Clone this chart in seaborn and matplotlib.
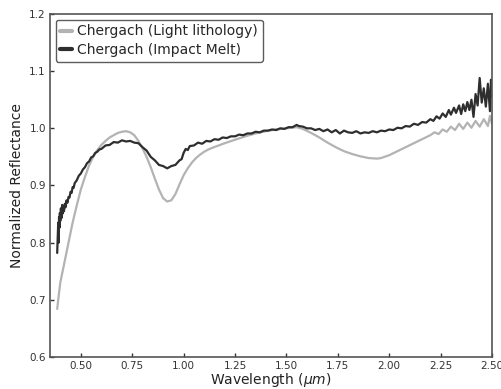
import numpy as np
import pandas as pd
import matplotlib
matplotlib.use("Agg")
import matplotlib.pyplot as plt
import seaborn as sns

light_x = [0.385, 0.39, 0.40, 0.42, 0.44, 0.46, 0.48, 0.50, 0.52, 0.54, 0.56, 0.58, 0.60, 0.62,
           0.64, 0.66, 0.68, 0.70, 0.72, 0.74, 0.76, 0.78, 0.80, 0.82, 0.84, 0.86, 0.88, 0.90,
           0.92, 0.94, 0.96, 0.98, 1.00, 1.02, 1.04, 1.06, 1.08, 1.10, 1.12, 1.14, 1.17, 1.20,
           1.25, 1.30, 1.35, 1.40, 1.45, 1.50, 1.55, 1.58, 1.62, 1.66, 1.70, 1.74, 1.78, 1.82,
           1.86, 1.90, 1.94, 1.96, 2.00, 2.04, 2.08, 2.12, 2.16, 2.20, 2.22, 2.24, 2.26, 2.28,
           2.30, 2.32, 2.34, 2.36, 2.38, 2.40, 2.42, 2.44, 2.46, 2.48, 2.49, 2.50]
light_y = [0.684, 0.700, 0.730, 0.765, 0.800, 0.835, 0.865, 0.893, 0.915, 0.935, 0.950, 0.962, 0.971, 0.978,
           0.984, 0.988, 0.992, 0.994, 0.995, 0.993, 0.988, 0.978, 0.965, 0.950, 0.932, 0.912, 0.893, 0.878,
           0.872, 0.874, 0.885, 0.902, 0.918, 0.930, 0.940, 0.948, 0.954, 0.959, 0.963, 0.966, 0.970, 0.974,
           0.980, 0.986, 0.991, 0.995, 0.998, 1.000, 1.002, 0.999, 0.992, 0.984, 0.975, 0.967, 0.960, 0.955,
           0.951, 0.948, 0.947, 0.948, 0.953, 0.960, 0.967, 0.974, 0.981, 0.988, 0.993, 0.990, 0.998, 0.994,
           1.003, 0.997, 1.008, 0.999, 1.010, 1.001, 1.013, 1.003, 1.016, 1.004, 1.022, 1.008]

melt_x = [0.385, 0.388, 0.390, 0.392, 0.394, 0.396, 0.398, 0.400, 0.403, 0.406, 0.409, 0.412, 0.415,
          0.418, 0.422, 0.426, 0.430, 0.435, 0.440, 0.445, 0.450, 0.455, 0.460, 0.465, 0.470, 0.480,
          0.490, 0.500, 0.510, 0.520, 0.530, 0.540, 0.550, 0.560, 0.570, 0.580, 0.590, 0.600, 0.620,
          0.640, 0.660, 0.680, 0.700, 0.720, 0.740, 0.760, 0.780, 0.800, 0.820, 0.840, 0.860, 0.880,
          0.900, 0.920, 0.940, 0.960, 0.980, 0.990, 1.000, 1.010, 1.020, 1.030, 1.050, 1.070, 1.090,
          1.110, 1.130, 1.150, 1.170, 1.190, 1.210, 1.230, 1.250, 1.270, 1.290, 1.310, 1.330, 1.350,
          1.370, 1.390, 1.410, 1.430, 1.450, 1.470, 1.490, 1.510, 1.530, 1.550, 1.560, 1.580, 1.600,
          1.620, 1.640, 1.660, 1.680, 1.700, 1.720, 1.740, 1.760, 1.780, 1.800, 1.820, 1.840, 1.860,
          1.880, 1.900, 1.920, 1.940, 1.960, 1.980, 2.000, 2.020, 2.040, 2.060, 2.080, 2.100, 2.120,
          2.140, 2.160, 2.180, 2.200, 2.215, 2.230, 2.245, 2.260, 2.275, 2.290, 2.300, 2.315, 2.325,
          2.340, 2.350, 2.360, 2.370, 2.380, 2.390, 2.400, 2.410, 2.420, 2.430, 2.440, 2.450, 2.460,
          2.470, 2.480, 2.490, 2.495, 2.500]
melt_y = [0.782, 0.812, 0.835, 0.800, 0.845, 0.826, 0.852, 0.838, 0.860, 0.843, 0.866, 0.851, 0.862,
          0.855, 0.868, 0.862, 0.874, 0.870, 0.880, 0.879, 0.889, 0.887, 0.897, 0.896, 0.904, 0.909,
          0.917, 0.921, 0.928, 0.932, 0.939, 0.942, 0.949, 0.951, 0.957, 0.959, 0.963, 0.964, 0.970,
          0.971, 0.976, 0.975, 0.979, 0.977, 0.978, 0.975, 0.974, 0.967, 0.961, 0.950, 0.944, 0.936,
          0.934, 0.930, 0.934, 0.936, 0.944, 0.946, 0.957, 0.964, 0.962, 0.969, 0.970, 0.975, 0.973,
          0.978, 0.977, 0.981, 0.980, 0.984, 0.983, 0.986, 0.986, 0.989, 0.988, 0.991, 0.991, 0.994,
          0.993, 0.996, 0.996, 0.998, 0.997, 1.000, 0.999, 1.002, 1.002, 1.006, 1.004, 1.003, 1.000,
          1.000, 0.997, 0.999, 0.995, 0.998, 0.993, 0.997, 0.991, 0.996, 0.993, 0.992, 0.995, 0.991,
          0.993, 0.992, 0.995, 0.993, 0.996, 0.995, 0.998, 0.997, 1.001, 1.000, 1.004, 1.003, 1.008,
          1.006, 1.011, 1.010, 1.016, 1.013, 1.021, 1.017, 1.026, 1.020, 1.032, 1.024, 1.036, 1.027,
          1.040, 1.025, 1.042, 1.030, 1.046, 1.032, 1.050, 1.020, 1.060, 1.040, 1.088, 1.045, 1.070,
          1.038, 1.078, 1.030, 1.085, 1.055]

labels = ["Chergach (Light lithology)", "Chergach (Impact Melt)"]

df = pd.concat([
    pd.DataFrame({"x": light_x, "y": light_y, "s": labels[0]}),
    pd.DataFrame({"x": melt_x, "y": melt_y, "s": labels[1]}),
], ignore_index=True)

sns.set_theme(style="white")
plt.rcParams["font.family"] = ["DejaVu Sans"]

fig = plt.figure(figsize=(5.02, 3.89), dpi=100)
ax = fig.add_axes([0.0996, 0.0823, 0.8805, 0.8817])
sns.lineplot(data=df, x="x", y="y", hue="s", palette=["#b3b3b3", "#2e2e2e"],
             estimator=None, sort=False, linewidth=1.6, ax=ax)

ax.set_xlim(0.35, 2.5)
ax.set_ylim(0.6, 1.2)
ax.set_xticks([0.5, 0.75, 1.0, 1.25, 1.5, 1.75, 2.0, 2.25, 2.5])
ax.set_xticklabels(["0.50", "0.75", "1.00", "1.25", "1.50", "1.75", "2.00", "2.25", "2.50"])
ax.set_yticks([0.6, 0.7, 0.8, 0.9, 1.0, 1.1, 1.2])
ax.set_yticklabels(["0.6", "0.7", "0.8", "0.9", "1.0", "1.1", "1.2"])
ax.tick_params(direction="in", length=3, width=1, labelsize=7.5, colors="#333333",
               bottom=True, left=True, top=False, right=False, pad=3)
for sp in ax.spines.values():
    sp.set_color("#555555")
    sp.set_linewidth(1.2)
ax.set_xlabel(r"Wavelength ($\mu m$)", fontsize=10, color="#222222", labelpad=0)
ax.set_ylabel("Normalized Reflectance", fontsize=10, color="#222222", labelpad=4)
leg = ax.legend(loc="upper left", fontsize=10, frameon=True, handlelength=0.8,
                handletextpad=0.4, borderpad=0.35, labelspacing=0.35, borderaxespad=0.4)
leg.get_frame().set_edgecolor("#333333")
leg.get_frame().set_linewidth(1.0)
for line in leg.get_lines():
    line.set_linewidth(3)

fig.savefig("out.png", dpi=100)
